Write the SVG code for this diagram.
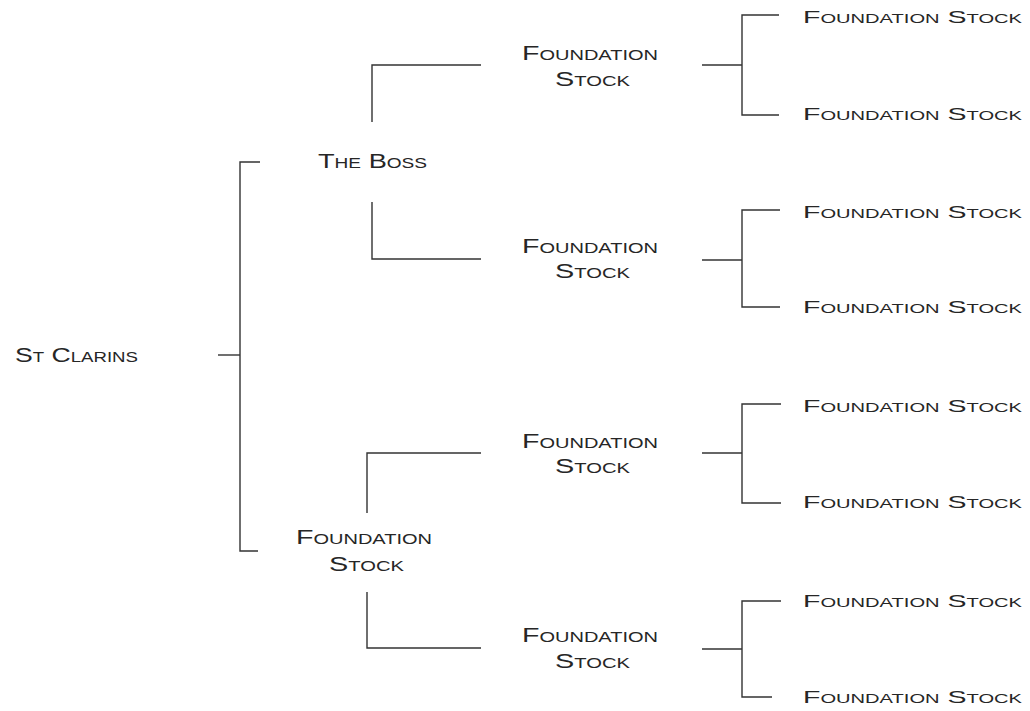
<svg xmlns="http://www.w3.org/2000/svg" width="1030" height="711" viewBox="0 0 1030 711">
<style>
  text { font-family: "Liberation Sans", Arial, sans-serif; font-variant: small-caps; fill: #262626; font-size: 20px; }
  text.leaf { font-size: 17px; }
  .conn path { fill: none; stroke: #333; stroke-width: 1.4; }
</style>
<rect width="1030" height="711" fill="#fff"/>
<g class="conn">
  <path d="M218 355 H240"/>
  <path d="M260 162 H240 V551 H258"/>
  <path d="M372 122 V65 H481"/>
  <path d="M372 202 V259 H481"/>
  <path d="M367 513 V453 H481"/>
  <path d="M367 592 V648 H481"/>
  <path d="M702 65 H742"/>
  <path d="M779 15 H742 V115 H779"/>
  <path d="M702 260 H742"/>
  <path d="M780 210 H742 V307 H780"/>
  <path d="M702 453 H742"/>
  <path d="M781 404 H742 V503 H781"/>
  <path d="M702 649 H742"/>
  <path d="M781 601 H742 V697 H772"/>
</g>
<g id="root"><text x="15" y="362" textLength="123" lengthAdjust="spacingAndGlyphs">St Clarins</text></g>
<g id="boss"><text x="318" y="168" textLength="109" lengthAdjust="spacingAndGlyphs">The Boss</text></g>
<g id="fs-l1">
  <text x="296" y="544" textLength="136" lengthAdjust="spacingAndGlyphs">Foundation</text>
  <text x="329" y="571" textLength="75" lengthAdjust="spacingAndGlyphs">Stock</text>
</g>
<g id="fs-l2-1">
  <text x="522" y="60" textLength="136" lengthAdjust="spacingAndGlyphs">Foundation</text>
  <text x="555" y="86" textLength="75" lengthAdjust="spacingAndGlyphs">Stock</text>
</g>
<g id="fs-l2-2">
  <text x="522" y="253" textLength="136" lengthAdjust="spacingAndGlyphs">Foundation</text>
  <text x="555" y="278" textLength="75" lengthAdjust="spacingAndGlyphs">Stock</text>
</g>
<g id="fs-l2-3">
  <text x="522" y="448" textLength="136" lengthAdjust="spacingAndGlyphs">Foundation</text>
  <text x="555" y="473" textLength="75" lengthAdjust="spacingAndGlyphs">Stock</text>
</g>
<g id="fs-l2-4">
  <text x="522" y="642" textLength="136" lengthAdjust="spacingAndGlyphs">Foundation</text>
  <text x="555" y="668" textLength="75" lengthAdjust="spacingAndGlyphs">Stock</text>
</g>
<g id="leaf-1"><text class="leaf" x="803" y="23" textLength="219" lengthAdjust="spacingAndGlyphs">Foundation Stock</text></g>
<g id="leaf-2"><text class="leaf" x="803" y="120" textLength="219" lengthAdjust="spacingAndGlyphs">Foundation Stock</text></g>
<g id="leaf-3"><text class="leaf" x="803" y="218" textLength="219" lengthAdjust="spacingAndGlyphs">Foundation Stock</text></g>
<g id="leaf-4"><text class="leaf" x="803" y="313" textLength="219" lengthAdjust="spacingAndGlyphs">Foundation Stock</text></g>
<g id="leaf-5"><text class="leaf" x="803" y="412" textLength="219" lengthAdjust="spacingAndGlyphs">Foundation Stock</text></g>
<g id="leaf-6"><text class="leaf" x="803" y="508" textLength="219" lengthAdjust="spacingAndGlyphs">Foundation Stock</text></g>
<g id="leaf-7"><text class="leaf" x="803" y="607" textLength="219" lengthAdjust="spacingAndGlyphs">Foundation Stock</text></g>
<g id="leaf-8"><text class="leaf" x="803" y="703" textLength="219" lengthAdjust="spacingAndGlyphs">Foundation Stock</text></g>
</svg>
